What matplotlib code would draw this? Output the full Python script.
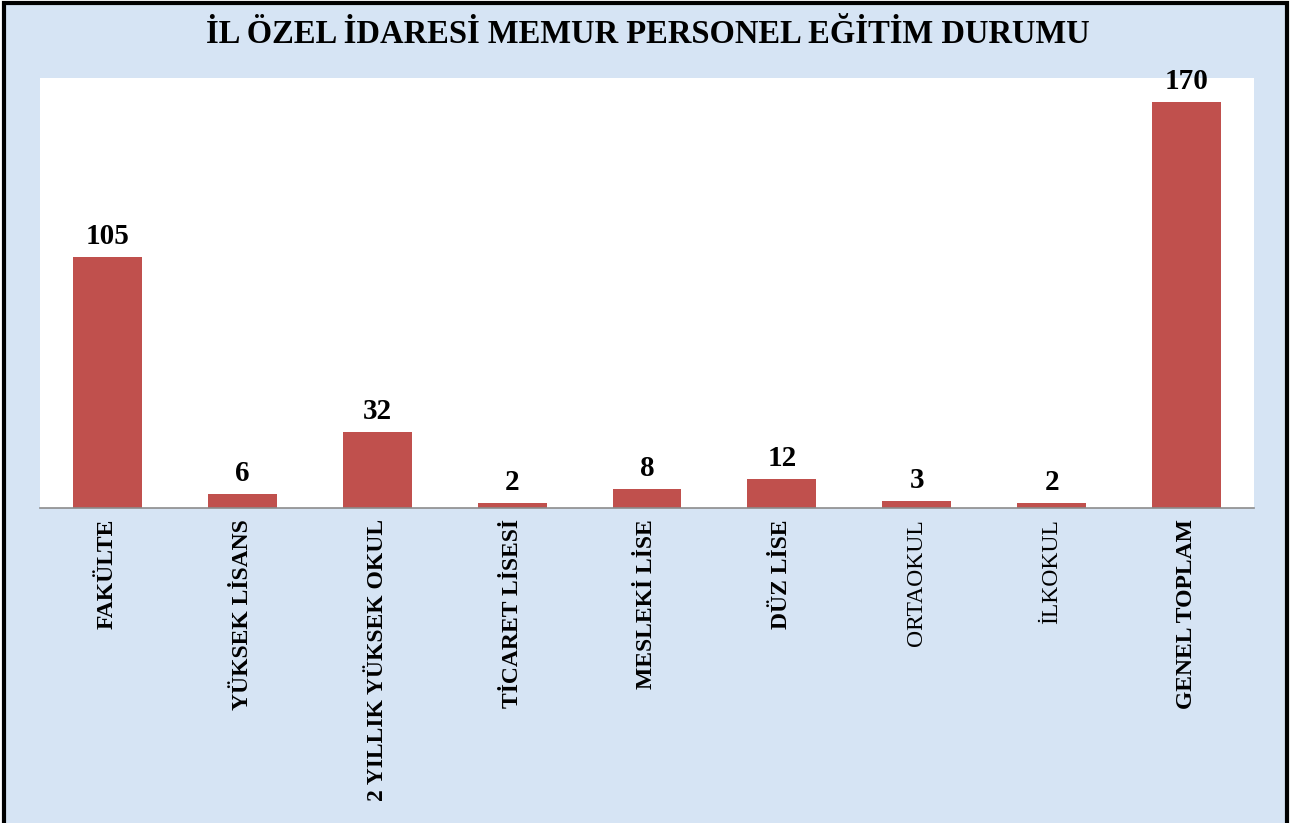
import matplotlib
matplotlib.use("Agg")
import matplotlib.pyplot as plt
from matplotlib.patches import Rectangle

categories = ["FAKÜLTE", "YÜKSEK LİSANS", "2 YILLIK YÜKSEK OKUL", "TİCARET LİSESİ",
              "MESLEKİ LİSE", "DÜZ LİSE", "ORTAOKUL", "İLKOKUL", "GENEL TOPLAM"]
values = [105, 6, 32, 2, 8, 12, 3, 2, 170]
bold_labels = [True, True, True, True, True, True, False, False, True]
title = "İL ÖZEL İDARESİ MEMUR PERSONEL EĞİTİM DURUMU"

W, H = 1302, 823
fig = plt.figure(figsize=(W / 100, H / 100), dpi=100, facecolor="white")

# outer framed background
bg = Rectangle((4 / W, -0.02), (1287 - 4) / W, 1 + 0.02 - 3 / H, transform=fig.transFigure,
               facecolor="#d6e4f4", edgecolor="black", linewidth=3, zorder=-10)
fig.patches.append(bg)

left, right, top, bottom = 40, 1254, 78, 508
ax = fig.add_axes([left / W, 1 - bottom / H, (right - left) / W, (bottom - top) / H])
ax.set_facecolor("white")
ax.set_zorder(1)

x = range(len(categories))
bars = ax.bar(x, values, width=0.51, color="#C0504D", zorder=2)
ax.set_xlim(-0.5, len(categories) - 0.5)
ax.set_ylim(0, 180)

for b, v in zip(bars, values):
    ax.annotate(str(v), (b.get_x() + b.get_width() / 2, v), xytext=(0, 5),
                textcoords="offset points", ha="center", va="bottom",
                fontfamily="Liberation Serif", fontweight="bold", fontsize=21, color="black")

ax.set_xticks(list(x))
ax.set_xticklabels(categories, rotation=90, fontfamily="Liberation Serif", fontsize=17,
                   va="top", ha="center")
for lbl, bl in zip(ax.get_xticklabels(), bold_labels):
    lbl.set_fontweight("bold" if bl else "normal")
ax.tick_params(axis="x", length=0, pad=8)
ax.set_yticks([])
for s in ["left", "right", "top"]:
    ax.spines[s].set_visible(False)
ax.spines["bottom"].set_color("#8c8c8c")
ax.spines["bottom"].set_linewidth(1.2)

fig.text(648 / W, 1 - 43 / H, title, ha="center", va="baseline",
         fontfamily="Liberation Serif", fontweight="bold", fontsize=23.5, color="black")

fig.savefig("out.png", dpi=100, facecolor=fig.get_facecolor())
